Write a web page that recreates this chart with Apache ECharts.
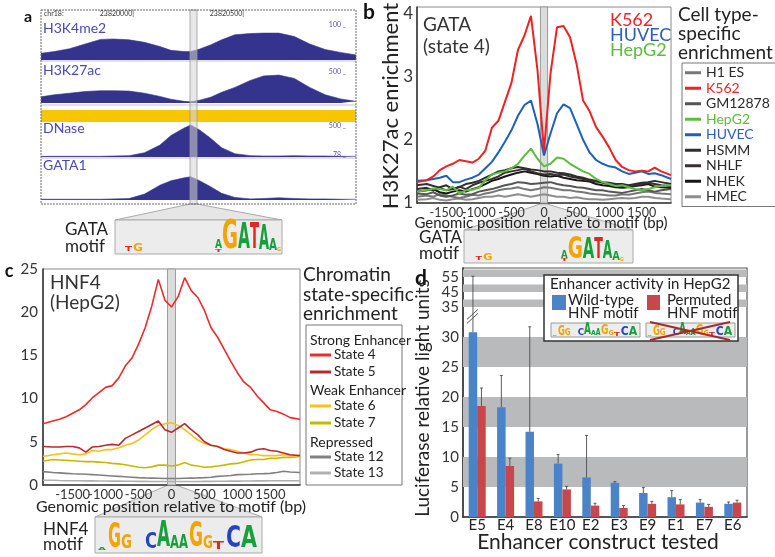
<!DOCTYPE html>
<html>
<head>
<meta charset="utf-8">
<script src="https://cdn.jsdelivr.net/npm/echarts@6/dist/echarts.min.js"></script>
<style>
  html, body { margin: 0; padding: 0; background: #fff; }
  #main { width: 775px; height: 557px; }
</style>
</head>
<body>
<div id="main"></div>
<script>
// ---------- panel a: genome browser tracks (relative signal, 0..1) ----------
const aPos = [23819590, 23819650, 23819720, 23819790, 23819860, 23819920, 23819990, 23820060,
  23820130, 23820180, 23820240, 23820270, 23820310, 23820360, 23820410, 23820470,
  23820540, 23820600, 23820670, 23820740, 23820810, 23820880, 23820950, 23821020];
const aH3K4me2 = [0.16, 0.2, 0.27, 0.38, 0.49, 0.5, 0.48, 0.42, 0.32, 0.23, 0.2, 0.2, 0.26, 0.36, 0.48, 0.6, 0.63, 0.64, 0.64, 0.56, 0.38, 0.25, 0.18, 0.12];
const aH3K27ac = [0.15, 0.2, 0.24, 0.28, 0.3, 0.3, 0.29, 0.24, 0.16, 0.09, 0.04, 0.03, 0.07, 0.14, 0.26, 0.38, 0.55, 0.66, 0.68, 0.6, 0.38, 0.2, 0.1, 0.04];
const aDNase = [0.02, 0.02, 0.02, 0.02, 0.02, 0.03, 0.04, 0.13, 0.36, 0.65, 0.88, 0.97, 0.82, 0.57, 0.28, 0.1, 0.04, 0.03, 0.03, 0.04, 0.03, 0.03, 0.02, 0.02];
const aGATA1 = [0.02, 0.02, 0.02, 0.02, 0.02, 0.03, 0.04, 0.16, 0.4, 0.52, 0.6, 0.63, 0.52, 0.36, 0.18, 0.07, 0.03, 0.04, 0.06, 0.04, 0.03, 0.03, 0.02, 0.02];
const aTrackNames = ['H3K4me2', 'H3K27ac', 'DNase', 'GATA1'];
const aTrackScale = ['100', '500', '500', '78'];
const aCoordLabels = ['23820000|', '23820500|'];

// ---------- panel b: H3K27ac around GATA motif, per cell type ----------
const bPos = [-1950, -1800, -1700, -1600, -1500, -1400, -1300, -1200, -1100, -1000, -900, -800, -700, -600, -500, -400, -300, -200, -100,
  0, 100, 200, 300, 400, 500, 600, 700, 800, 900, 1000, 1100, 1200, 1300, 1400, 1500, 1600, 1700, 1800, 1950];
const bK562 = [1.33, 1.36, 1.42, 1.52, 1.58, 1.62, 1.68, 1.66, 1.64, 1.7, 1.83, 2.19, 2.3, 2.6, 2.9, 3.42, 3.65, 3.96, 3.1, 1.82,
  3.05, 3.78, 3.8, 3.62, 3.2, 2.62, 2.45, 2.2, 2.05, 1.88, 1.68, 1.57, 1.52, 1.5, 1.51, 1.5, 1.56, 1.5, 1.44];
const bHUVEC = [1.35, 1.36, 1.38, 1.4, 1.43, 1.33, 1.33, 1.37, 1.4, 1.45, 1.55, 1.65, 1.8, 1.97, 2.15, 2.38, 2.55, 2.62, 2.25, 1.75,
  2.1, 2.42, 2.56, 2.5, 2.25, 2.0, 1.8, 1.68, 1.62, 1.58, 1.56, 1.5, 1.46, 1.48, 1.5, 1.46, 1.47, 1.44, 1.38];
const bHepG2 = [1.18, 1.2, 1.23, 1.22, 1.2, 1.26, 1.15, 1.2, 1.21, 1.24, 1.36, 1.45, 1.48, 1.5, 1.55, 1.62, 1.75, 1.86, 1.7, 1.58,
  1.62, 1.72, 1.7, 1.62, 1.56, 1.5, 1.46, 1.38, 1.33, 1.3, 1.27, 1.28, 1.25, 1.22, 1.2, 1.22, 1.25, 1.27, 1.28];
const bHSMM = [1.22, 1.24, 1.2, 1.25, 1.28, 1.22, 1.25, 1.3, 1.32, 1.35, 1.4, 1.45, 1.5, 1.52, 1.55, 1.57, 1.55, 1.53, 1.52, 1.5,
  1.5, 1.48, 1.47, 1.45, 1.42, 1.4, 1.37, 1.35, 1.33, 1.32, 1.3, 1.3, 1.28, 1.3, 1.32, 1.33, 1.35, 1.33, 1.3];
const bNHLF = [1.28, 1.3, 1.27, 1.24, 1.2, 1.22, 1.26, 1.22, 1.28, 1.32, 1.35, 1.38, 1.42, 1.48, 1.5, 1.52, 1.54, 1.5, 1.47, 1.45,
  1.46, 1.44, 1.45, 1.42, 1.4, 1.38, 1.36, 1.34, 1.32, 1.3, 1.28, 1.27, 1.26, 1.28, 1.3, 1.32, 1.3, 1.28, 1.27];
const bNHEK = [1.18, 1.2, 1.22, 1.17, 1.15, 1.18, 1.2, 1.18, 1.22, 1.25, 1.3, 1.35, 1.38, 1.42, 1.45, 1.48, 1.5, 1.48, 1.46, 1.43,
  1.42, 1.43, 1.4, 1.38, 1.36, 1.35, 1.34, 1.3, 1.28, 1.27, 1.25, 1.24, 1.25, 1.27, 1.28, 1.3, 1.26, 1.25, 1.24];
const bGM12878 = [1.15, 1.14, 1.17, 1.12, 1.1, 1.12, 1.15, 1.13, 1.14, 1.18, 1.2, 1.22, 1.25, 1.28, 1.3, 1.33, 1.32, 1.3, 1.31, 1.32,
  1.33, 1.3, 1.28, 1.27, 1.25, 1.24, 1.22, 1.2, 1.2, 1.18, 1.17, 1.16, 1.18, 1.2, 1.22, 1.2, 1.18, 1.2, 1.22];
const bH1ES = [1.1, 1.12, 1.1, 1.14, 1.12, 1.1, 1.08, 1.1, 1.13, 1.12, 1.15, 1.17, 1.2, 1.22, 1.23, 1.25, 1.22, 1.2, 1.22, 1.25,
  1.24, 1.22, 1.2, 1.2, 1.18, 1.17, 1.15, 1.14, 1.13, 1.12, 1.12, 1.14, 1.13, 1.15, 1.17, 1.18, 1.16, 1.15, 1.14];
const bHMEC = [1.05, 1.06, 1.08, 1.05, 1.04, 1.06, 1.07, 1.05, 1.06, 1.08, 1.1, 1.1, 1.12, 1.1, 1.12, 1.14, 1.12, 1.1, 1.12, 1.14,
  1.12, 1.1, 1.1, 1.08, 1.09, 1.07, 1.06, 1.06, 1.05, 1.06, 1.07, 1.08, 1.07, 1.08, 1.1, 1.1, 1.08, 1.07, 1.06];
const xTicksOdd = [-1500, -500, 500, 1500];
const xTicksEven = [-1000, 0, 1000];
const bYTicks = [1, 2, 3, 4];

// ---------- panel c: H3K27ac around HNF4 motif in HepG2, per chromatin state ----------
const cPos = bPos;
const cState4 = [7.1, 7.4, 7.6, 7.9, 8.3, 8.7, 9.3, 10.1, 10.7, 11.3, 11.5, 12.4, 13.8, 14.7, 16.3, 18.2, 20.7, 23.8, 21.4, 20.6,
  21.8, 24.0, 22.5, 21.7, 20.2, 18.2, 17.1, 15.7, 14.3, 13.0, 11.9, 11.3, 10.3, 9.5, 8.7, 8.5, 8.2, 7.8, 7.6];
const cState5 = [4.45, 4.4, 4.4, 4.45, 4.45, 4.3, 3.8, 4.4, 4.45, 4.6, 4.7, 4.6, 5.4, 5.8, 6.2, 6.6, 7.0, 7.4, 6.4, 6.1,
  6.6, 7.1, 6.4, 5.8, 5.0, 4.6, 4.45, 4.1, 3.9, 3.7, 3.7, 3.8, 4.1, 4.2, 4.0, 3.9, 3.7, 3.5, 3.4];
const cState6 = [3.3, 3.5, 3.6, 3.7, 3.6, 3.5, 3.6, 4.0, 3.9, 4.1, 4.1, 4.3, 4.6, 4.8, 5.2, 5.8, 6.4, 6.9, 7.1, 7.2,
  6.9, 6.4, 5.8, 5.2, 4.8, 4.6, 4.45, 4.2, 4.1, 3.9, 3.7, 3.5, 3.5, 3.4, 3.4, 3.4, 3.5, 3.4, 3.3];
const cState7 = [2.75, 2.95, 2.9, 2.85, 2.8, 2.75, 2.7, 2.7, 2.65, 2.6, 2.5, 2.45, 2.35, 2.2, 2.05, 2.0, 2.1, 2.3, 2.3, 2.2,
  2.3, 2.6, 2.3, 2.2, 2.05, 2.1, 2.2, 2.3, 2.45, 2.5, 2.7, 2.9, 2.95, 2.95, 3.1, 3.1, 3.2, 3.2, 3.3];
const cState12 = [1.55, 1.45, 1.4, 1.35, 1.3, 1.28, 1.25, 1.2, 1.15, 1.1, 1.05, 1.0, 0.95, 0.9, 0.85, 0.82, 0.8, 0.78, 0.76, 0.75,
  0.76, 0.78, 0.8, 0.82, 0.85, 0.9, 1.0, 1.05, 1.1, 1.2, 1.22, 1.25, 1.3, 1.32, 1.35, 1.45, 1.6, 1.5, 1.45];
const cState13 = [0.55, 0.55, 0.52, 0.5, 0.5, 0.5, 0.48, 0.48, 0.47, 0.46, 0.45, 0.45, 0.44, 0.43, 0.42, 0.42, 0.4, 0.4, 0.4, 0.4,
  0.4, 0.4, 0.4, 0.41, 0.42, 0.42, 0.43, 0.44, 0.45, 0.45, 0.46, 0.47, 0.48, 0.48, 0.5, 0.5, 0.5, 0.5, 0.5];

// ---------- panel d: luciferase assay ----------
const dCats = ['E5', 'E4', 'E8', 'E10', 'E2', 'E3', 'E9', 'E1', 'E7', 'E6'];
const dWild = [30.8, 18.3, 14.2, 8.9, 6.6, 5.7, 4.0, 3.3, 2.4, 2.2];
const dWildErr = [55.5, 23.6, 31.7, 10.4, 13.6, 5.9, 4.9, 4.4, 2.9, 2.5];
const dPerm = [18.5, 8.5, 2.6, 4.6, 1.9, 1.5, 2.2, 2.1, 1.7, 2.4];
const dPermErr = [21.5, 9.8, 3.1, 5.1, 2.3, 1.9, 2.6, 2.9, 2.1, 2.8];
const dYTicks = [0, 5, 10, 15, 20, 25, 30, 35, 45, 55];
const dBands = [[5, 10], [15, 20], [25, 30], [35, 40], [45, 50], [55, 60]];
const dBreakAt = 35;   // axis is compressed 4x above this value

const FONT = 'Lato, "Open Sans", sans-serif';
const toDisp = v => v <= dBreakAt ? v : dBreakAt + (v - dBreakAt) / 4;
const fromDisp = v => v <= dBreakAt ? v : dBreakAt + (v - dBreakAt) * 4;

const chart = echarts.init(document.getElementById('main'));

// helpers
function lineSeries(name, axis, pos, vals, color, width) {
  return {
    type: 'line', name, xAxisIndex: axis, yAxisIndex: axis, z: 3, silent: true,
    data: pos.map((p, i) => [p, vals[i]]), symbol: 'none',
    lineStyle: { color, width }, itemStyle: { color }
  };
}
function stripeSeries(axis, lo, hi, yref) {
  return {
    type: 'custom', xAxisIndex: axis, yAxisIndex: axis, z: 1, silent: true,
    data: [[lo, hi, yref]], encode: { x: [0, 1], y: 2 },
    renderItem(params, api) {
      const cs = params.coordSys;
      const x0 = api.coord([api.value(0), api.value(2)])[0];
      const x1 = api.coord([api.value(1), api.value(2)])[0];
      return { type: 'rect', shape: { x: x0, y: cs.y, width: x1 - x0, height: cs.height },
        style: { fill: '#dcdcdc', stroke: '#9a9a9a', lineWidth: 1 } };
    }
  };
}
function txt(x, y, text, size, color, align, weight) {
  return { type: 'text', x, y, z: 60, silent: true,
    style: { text, fontSize: size, fontFamily: FONT, fontWeight: weight || 'normal', fill: color || '#222',
      textAlign: align || 'left', textVerticalAlign: 'middle' } };
}
function rect(x, y, w, h, fill, stroke, z, extra) {
  return { type: 'rect', z: z || 5, silent: true, shape: { x, y, width: w, height: h },
    style: Object.assign({ fill, stroke: stroke || null, lineWidth: 1 }, extra || {}) };
}

// sequence logo letters
const LETTER_COL = { A: '#17a03a', C: '#2444c6', G: '#f4a300', T: '#e3261f' };
const ADV = { A: 0.774, C: 0.734, G: 0.821, T: 0.682 };
function letter(ch, x, yBase, w, h) {
  const fs = 40;
  return { type: 'text', x, y: yBase - h / 2, scaleX: w / (ADV[ch] * fs), scaleY: h / (0.73 * fs), z: 40, silent: true,
    style: { text: ch, fontSize: fs, fontWeight: 'bold', fontFamily: '"DejaVu Sans", sans-serif', fill: LETTER_COL[ch],
      textAlign: 'left', textVerticalAlign: 'middle' } };
}
function logo(x0, yBase, sx, sy, spec) {
  return spec.map(([ch, dx, w, h, off]) => letter(ch, x0 + dx * sx, yBase - (off || 0) * sy, w * sx, h * sy));
}
const gataLogo = [['T', 10, 7, 5], ['G', 18, 10, 8], ['T', 100, 7, 3], ['A', 100, 7, 9, 3], ['G', 107, 16, 28],
  ['A', 123, 12, 26], ['T', 135, 9, 26], ['A', 144, 10, 24], ['A', 154, 8, 11], ['G', 162, 4, 4]];
const hnf4Logo = [['A', 3, 8, 3], ['G', 13, 13, 24], ['G', 26, 11, 14], ['C', 50, 12, 16], ['A', 62, 13, 26], ['A', 75, 9, 13],
  ['A', 84, 9, 14], ['G', 94, 14, 25], ['G', 108, 10, 13], ['T', 118, 11, 8], ['C', 131, 15, 22], ['A', 146, 16, 22]];

// ---------- series ----------
const series = [];
[aH3K4me2, aH3K27ac, aDNase, aGATA1].forEach((vals, i) => {
  series.push({
    type: 'line', xAxisIndex: i, yAxisIndex: i, silent: true, symbol: 'none', z: 2,
    data: aPos.map((p, k) => [p, vals[k]]),
    lineStyle: { color: '#34348e', width: 0.6 }, areaStyle: { color: '#34348e', opacity: 1 }
  });
});

const bSpec = [
  ['HMEC', bHMEC, '#8e8e8e'], ['H1 ES', bH1ES, '#777777'], ['GM12878', bGM12878, '#555555'],
  ['NHEK', bNHEK, '#1b1616'], ['NHLF', bNHLF, '#3b2f2f'], ['HSMM', bHSMM, '#2e2e2e'],
  ['HepG2', bHepG2, '#5cbc3c'], ['HUVEC', bHUVEC, '#1f5fba'], ['K562', bK562, '#ec2224']
];
series.push(stripeSeries(4, -55, 55, 2));
bSpec.forEach(([n, v, c]) => series.push(lineSeries(n, 4, bPos, v, c, 2)));

const cSpec = [
  ['State 13', cState13, '#b0b0b0'], ['State 12', cState12, '#808080'], ['State 7', cState7, '#c9b800'],
  ['State 6', cState6, '#fdbf1a'], ['State 5', cState5, '#b52a30'], ['State 4', cState4, '#ee2a2a']
];
series.push(stripeSeries(5, -60, 60, 5));
cSpec.forEach(([n, v, c]) => series.push(lineSeries(n, 5, cPos, v, c, 1.6)));

// panel d: background bands, bars, error bars, axis-break mark
series.push({
  type: 'custom', xAxisIndex: 6, yAxisIndex: 6, z: 1, silent: true,
  data: dBands.map(b => [0, toDisp(b[0]), toDisp(b[1])]), encode: { x: 0, y: [1, 2] },
  renderItem(params, api) {
    const cs = params.coordSys;
    const y0 = api.coord([0, api.value(1)])[1];
    const y1 = Math.max(api.coord([0, api.value(2)])[1], cs.y);
    return { type: 'rect', shape: { x: cs.x, y: y1, width: cs.width, height: y0 - y1 }, style: { fill: '#b9babc' } };
  }
});
series.push({ type: 'bar', name: 'Wild-type', xAxisIndex: 6, yAxisIndex: 6, z: 3, silent: true,
  data: dWild.map(toDisp), barWidth: 8.5, barGap: '0%', itemStyle: { color: '#4a83c7' } });
series.push({ type: 'bar', name: 'Permuted', xAxisIndex: 6, yAxisIndex: 6, z: 3, silent: true,
  data: dPerm.map(toDisp), barWidth: 8.5, barGap: '0%', itemStyle: { color: '#c8474b' } });
const errData = [];
dCats.forEach((c, i) => {
  errData.push([i, toDisp(dWild[i]), toDisp(dWildErr[i]), -1]);
  errData.push([i, toDisp(dPerm[i]), toDisp(dPermErr[i]), 1]);
});
series.push({
  type: 'custom', xAxisIndex: 6, yAxisIndex: 6, z: 4, silent: true, data: errData, encode: { x: 0, y: [1, 2] },
  renderItem(params, api) {
    const b = api.coord([api.value(0), api.value(1)]);
    const t = api.coord([api.value(0), api.value(2)]);
    const x = b[0] + api.value(3) * 4.25;
    const st = { stroke: '#4d4d4d', lineWidth: 0.9 };
    return { type: 'group', children: [
      { type: 'line', shape: { x1: x, y1: b[1], x2: x, y2: t[1] }, style: st },
      { type: 'line', shape: { x1: x - 1.5, y1: t[1], x2: x + 1.5, y2: t[1] }, style: st }
    ] };
  }
});
series.push({
  type: 'custom', xAxisIndex: 6, yAxisIndex: 6, z: 5, silent: true, data: [[0, 33.6]], encode: { x: 0, y: 1 },
  renderItem(params, api) {
    const p = api.coord([api.value(0), api.value(1)]);
    const x = p[0] - 4.25, y = p[1];
    const st = { stroke: '#555', lineWidth: 1 };
    return { type: 'group', children: [
      { type: 'line', shape: { x1: x - 6, y1: y + 4, x2: x + 5, y2: y - 6 }, style: st },
      { type: 'line', shape: { x1: x - 6, y1: y + 8, x2: x + 5, y2: y - 2 }, style: st }
    ] };
  }
});

// ---------- axes ----------
const aGrids = [
  { left: 41, top: 18, width: 315, height: 42 },
  { left: 41, top: 62, width: 315, height: 41 },
  { left: 41, top: 124, width: 315, height: 33 },
  { left: 41, top: 163, width: 315, height: 37 }
];
const grids = aGrids.concat([
  { left: 417, top: 7, width: 254, height: 196, show: true, borderColor: '#8a8a8a', borderWidth: 1 },
  { left: 43, top: 269, width: 257, height: 216, show: true, borderColor: '#8a8a8a', borderWidth: 1 },
  { left: 463, top: 268, width: 284, height: 249, show: true, borderColor: '#555', borderWidth: 1.2 }
]);
const hidden = { show: false };
const xAxes = aGrids.map((g, i) => ({ type: 'value', gridIndex: i, min: aPos[0], max: aPos[aPos.length - 1], axisLine: hidden, axisTick: hidden, axisLabel: hidden, splitLine: hidden }));
const yAxes = aGrids.map((g, i) => ({ type: 'value', gridIndex: i, min: 0, max: 1, axisLine: hidden, axisTick: hidden, axisLabel: hidden, splitLine: hidden }));
const axLine = { show: true, onZero: false, lineStyle: { color: '#3a3a3a', width: 1.6 } };
const lbl = (size, margin, custom, fmt) => ({ fontSize: size, fontFamily: FONT, color: '#333', margin, customValues: custom,
  hideOverlap: false, showMinLabel: true, showMaxLabel: true, formatter: fmt || (v => String(v)) });

xAxes.push({ type: 'value', gridIndex: 4, position: 'bottom', min: -1950, max: 1950, axisLine: axLine, axisTick: hidden, splitLine: hidden,
  axisLabel: lbl(12.5, 3, xTicksOdd) });
yAxes.push({ type: 'value', gridIndex: 4, min: 1, max: 4.1, axisLine: axLine, axisTick: hidden, splitLine: hidden,
  axisLabel: lbl(17, 4, bYTicks) });
xAxes.push({ type: 'value', gridIndex: 5, position: 'bottom', min: -1950, max: 1950, axisLine: axLine, axisTick: hidden, splitLine: hidden,
  axisLabel: lbl(13, 3, xTicksOdd) });
yAxes.push({ type: 'value', gridIndex: 5, min: 0, max: 25, interval: 5, axisLine: axLine, axisTick: hidden, splitLine: hidden,
  axisLabel: { fontSize: 15, fontFamily: FONT, color: '#333', margin: 5 } });
xAxes.push({ type: 'category', gridIndex: 6, data: dCats, axisLine: axLine, axisTick: hidden, splitLine: hidden,
  axisLabel: { fontSize: 15, fontFamily: FONT, color: '#222', margin: 1, interval: 0 } });
yAxes.push({ type: 'value', gridIndex: 6, min: 0, max: 41.5, axisLine: axLine, axisTick: hidden, splitLine: hidden,
  axisLabel: lbl(15, 4, dYTicks.map(toDisp), v => String(Math.round(fromDisp(v)))) });
// companion x axes (same scale) carrying the alternate tick labels, so crowded labels are all kept
xAxes.push({ type: 'value', gridIndex: 4, position: 'bottom', offset: 0, min: -1950, max: 1950, axisLine: hidden, axisTick: hidden, splitLine: hidden,
  axisLabel: lbl(12.5, 3, xTicksEven) });
xAxes.push({ type: 'value', gridIndex: 5, position: 'bottom', offset: 0, min: -1950, max: 1950, axisLine: hidden, axisTick: hidden, splitLine: hidden,
  axisLabel: lbl(13, 3, xTicksEven) });

// ---------- legend for panel b ----------
const bLegendOrder = ['H1 ES', 'K562', 'GM12878', 'HepG2', 'HUVEC', 'HSMM', 'NHLF', 'NHEK', 'HMEC'];
const bLegendText = { K562: '#e8262a', HepG2: '#5cbc3c', HUVEC: '#2d5fb8' };

// ---------- graphic decorations ----------
const g = [];
// panel a
g.push(txt(28, 17, 'a', 16, '#111', 'center', 'bold'));
g.push(rect(41, 110, 315, 12, '#f7c600', null, 3));
[61, 105, 158].forEach(y => g.push({ type: 'line', z: 4, silent: true, shape: { x1: 41, y1: y, x2: 356, y2: y }, style: { stroke: '#c4c4c4', lineWidth: 1 } }));
g.push(rect(190, 10, 7, 194, 'rgba(214,214,214,0.55)', '#999', 6, { lineWidth: 0.8 }));
g.push(rect(41, 10, 315, 194, null, '#666', 7, { lineDash: [2, 1] }));
g.push(txt(44, 14, 'chr18:', 7, '#333'));
g.push(txt(134, 14, aCoordLabels[0], 7, '#333', 'right'));
g.push(txt(244, 14, aCoordLabels[1], 7, '#333', 'right'));
[28, 70, 128, 165].forEach((y, i) => g.push(txt(43, y, aTrackNames[i], 14, '#4a4ab4')));
[25, 72, 126, 155].forEach((y, i) => g.push(txt(346, y, aTrackScale[i] + ' _', 7, '#5555aa', 'right')));
g.push({ type: 'polygon', z: 2, silent: true, shape: { points: [[190, 204], [197, 204], [282, 220], [115, 220]] }, style: { fill: '#e6e6e6', stroke: '#aaa', lineWidth: 1 } });
g.push(rect(115, 220, 167, 34, '#ececec', '#aaa', 3));
g.push(txt(65, 230, 'GATA', 17, '#222'));
g.push(txt(65, 247, 'motif', 17, '#222'));
logo(115, 252, 1, 1, gataLogo).forEach(e => g.push(e));

// panel b
g.push(txt(369, 12, 'b', 21, '#111', 'center', 'bold'));
g.push(txt(423, 25, 'GATA', 19, '#333'));
g.push(txt(423, 47, '(state 4)', 19, '#333'));
g.push(txt(610, 20, 'K562', 18, '#e8262a'));
g.push(txt(610, 35, 'HUVEC', 18, '#2d5fb8'));
g.push(txt(610, 50, 'HepG2', 18, '#5cbc3c'));
g.push(txt(678, 15, 'Cell type-', 19, '#222'));
g.push(txt(678, 34, 'specific', 19, '#222'));
g.push(txt(678, 53, 'enrichment', 19, '#222'));
g.push({ type: 'text', x: 391, y: 106, rotation: Math.PI / 2, z: 60, silent: true,
  style: { text: 'H3K27ac enrichment', fontSize: 22, fontFamily: FONT, fill: '#222', textAlign: 'center', textVerticalAlign: 'middle' } });
g.push({ type: 'polygon', z: 0, silent: true, shape: { points: [[540, 204], [547, 204], [633, 230], [464, 230]] }, style: { fill: '#e6e6e6', stroke: '#aaa', lineWidth: 1 } });
g.push(rect(464, 230, 169, 33, '#ececec', '#aaa', 3));
g.push(txt(541, 223, 'Genomic position relative to motif (bp)', 15, '#222', 'center'));
g.push(txt(419, 238, 'GATA', 17, '#222'));
g.push(txt(419, 254, 'motif', 17, '#222'));
logo(466, 261, 0.95, 0.78, gataLogo).forEach(e => g.push(e));

// panel c
g.push(txt(9, 271, 'c', 18, '#111', 'center', 'bold'));
g.push(txt(50, 283, 'HNF4', 19, '#333'));
g.push(txt(50, 303, '(HepG2)', 19, '#333'));
g.push({ type: 'polygon', z: 0, silent: true, shape: { points: [[168, 485], [176, 485], [262, 517], [95, 517]] }, style: { fill: '#e6e6e6', stroke: '#aaa', lineWidth: 1 } });
g.push(rect(95, 517, 167, 36, '#ececec', '#aaa', 3));
g.push(txt(171, 507, 'Genomic position relative to motif (bp)', 16, '#222', 'center'));
g.push(txt(43, 530, 'HNF4', 17, '#222'));
g.push(txt(43, 545, 'motif', 17, '#222'));
logo(95, 550, 1, 1, hnf4Logo).forEach(e => g.push(e));
g.push(txt(303, 275, 'Chromatin', 19, '#222'));
g.push(txt(303, 295, 'state-specific', 19, '#222'));
g.push(txt(303, 314, 'enrichment', 19, '#222'));
g.push(rect(306, 325, 96, 160, '#fff', '#777', 5));
const cLegend = [
  ['Strong Enhancer', null, 340], ['State 4', '#ee2a2a', 355], ['State 5', '#b52a30', 372],
  ['Weak Enhancer', null, 390], ['State 6', '#fdbf1a', 406], ['State 7', '#c9b800', 423],
  ['Repressed', null, 442], ['State 12', '#808080', 457], ['State 13', '#b0b0b0', 473]
];
cLegend.forEach(([name, col, y]) => {
  if (col) {
    g.push({ type: 'line', z: 6, silent: true, shape: { x1: 310, y1: y, x2: 331, y2: y }, style: { stroke: col, lineWidth: 3 } });
    g.push(txt(334, y, name, 13.5, '#222'));
  } else {
    g.push(txt(310, y, name, 14, '#222'));
  }
});

// panel d
g.push(txt(421, 278, 'd', 21, '#111', 'center', 'bold'));
g.push({ type: 'text', x: 423, y: 398, rotation: Math.PI / 2, z: 60, silent: true,
  style: { text: 'Luciferase relative light units', fontSize: 19, fontFamily: FONT, fill: '#222', textAlign: 'center', textVerticalAlign: 'middle' } });
g.push(txt(598, 542, 'Enhancer construct tested', 21, '#222', 'center'));
g.push(rect(544, 275, 194, 66, '#fff', '#333', 30, { lineWidth: 1.5 }));
g.push(txt(550, 284, 'Enhancer activity in HepG2', 15, '#222'));
g.push(rect(552, 295, 14, 15, '#4a83c7', null, 31));
g.push(txt(568, 300, 'Wild-type', 15, '#222'));
g.push(txt(568, 313, 'HNF motif', 15, '#222'));
g.push(rect(647, 295, 13, 15, '#c8474b', null, 31));
g.push(txt(667, 300, 'Permuted', 15, '#222'));
g.push(txt(667, 313, 'HNF motif', 15, '#222'));
g.push(rect(551, 323, 89, 14, '#ededed', '#999', 31));
g.push(rect(646, 323, 89, 14, '#ededed', '#999', 31));
logo(551, 336, 0.533, 0.42, hnf4Logo).forEach(e => g.push(e));
logo(646, 336, 0.533, 0.42, hnf4Logo).forEach(e => g.push(e));
g.push({ type: 'line', z: 45, silent: true, shape: { x1: 650, y1: 322, x2: 730, y2: 340 }, style: { stroke: '#a52a2a', lineWidth: 2 } });
g.push({ type: 'line', z: 45, silent: true, shape: { x1: 650, y1: 340, x2: 730, y2: 322 }, style: { stroke: '#a52a2a', lineWidth: 2 } });

chart.setOption({
  animation: false,
  backgroundColor: '#fff',
  grid: grids,
  xAxis: xAxes,
  yAxis: yAxes,
  legend: [{
    data: bLegendOrder.map(n => ({ name: n, textStyle: { color: bLegendText[n] || '#2a2a2a' } })),
    orient: 'vertical', left: 682, top: 63, icon: 'rect', itemWidth: 16, itemHeight: 3, itemGap: 0,
    padding: [2, 6, 2, 3], borderColor: '#777', borderWidth: 1, selectedMode: false,
    textStyle: { fontSize: 14, fontFamily: FONT, lineHeight: 15.5 }
  }],
  series,
  graphic: { elements: g }
});
</script>
</body>
</html>
